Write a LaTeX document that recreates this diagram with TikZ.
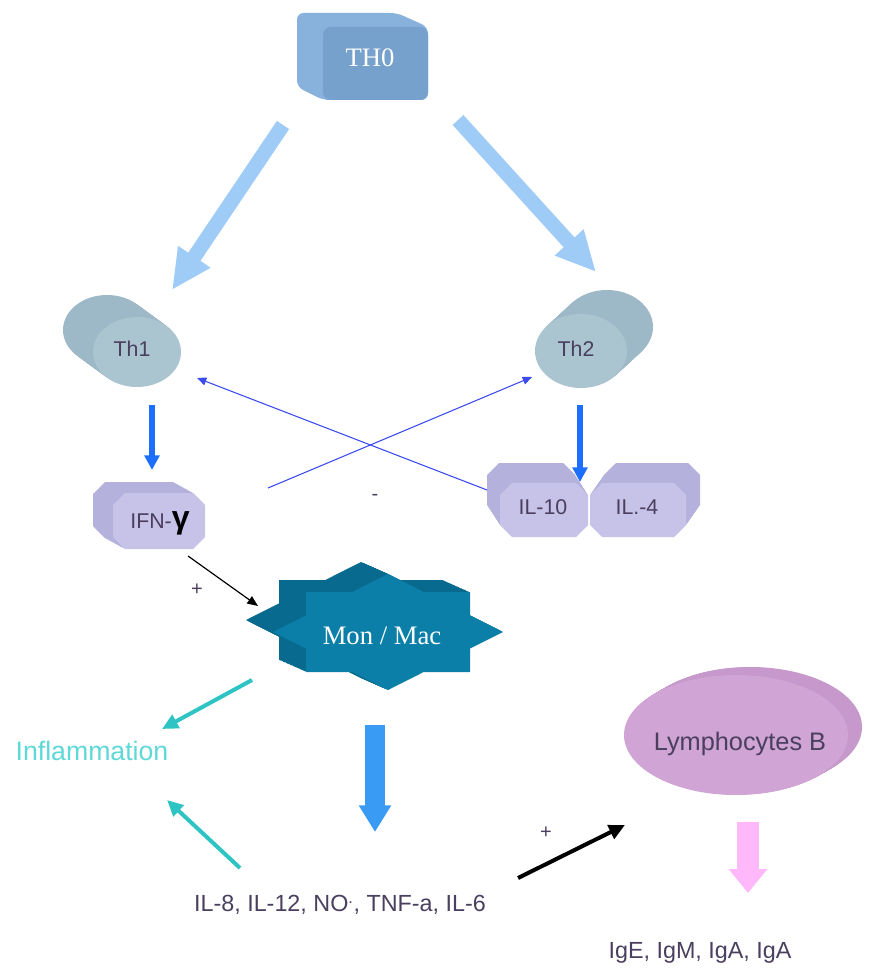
\documentclass[tikz,border=0pt]{standalone}
\usepackage{fontspec}
\setmainfont{Liberation Serif}
\setsansfont{Liberation Sans}
\usetikzlibrary{arrows.meta}
\definecolor{thfront}{HTML}{76A1CD}
\definecolor{thside}{HTML}{88B1DC}
\definecolor{cylfront}{HTML}{AAC4D0}
\definecolor{cylside}{HTML}{9DB8C6}
\definecolor{octfront}{HTML}{C6C2E8}
\definecolor{octside}{HTML}{B5B1DD}
\definecolor{starfront}{HTML}{0C7FA8}
\definecolor{starside}{HTML}{086A8F}
\definecolor{lymfront}{HTML}{D0A4D4}
\definecolor{lymside}{HTML}{C698CB}
\definecolor{lightarrow}{HTML}{9FCBF7}
\definecolor{midblue}{HTML}{1C6EFF}
\definecolor{thinblue}{HTML}{3B4BEF}
\definecolor{teal}{HTML}{2EC4C4}
\definecolor{infltext}{HTML}{5FD8D8}
\definecolor{bigblue}{HTML}{3A9BF5}
\definecolor{pinkarrow}{HTML}{FFB9FA}
\definecolor{labtext}{HTML}{4B3F5F}
\newcommand\cylinder[8]{%
  \foreach \i in {20,...,1}{\fill[#7] ({#1+\i/20*(#5)},{#2+\i/20*(#6)}) ellipse [x radius={(#3)*0.75pt}, y radius={(#4)*0.75pt}];}
  \fill[#8] (#1,#2) ellipse [x radius={(#3)*0.75pt}, y radius={(#4)*0.75pt}];}
\newcommand\octface[6]{%
  \fill[#1] ({#2-#4+#6},{#3-#5}) -- ({#2+#4-#6},{#3-#5}) -- ({#2+#4},{#3-#5+#6}) -- ({#2+#4},{#3+#5-#6}) -- ({#2+#4-#6},{#3+#5}) -- ({#2-#4+#6},{#3+#5}) -- ({#2-#4},{#3+#5-#6}) -- ({#2-#4},{#3-#5+#6}) -- cycle;}
\newcommand\octprism[9]{%
  \foreach \i in {20,...,1}{\pgfmathsetmacro\ox{#1+\i/20*(#6)}\pgfmathsetmacro\oy{#2+\i/20*(#7)}\octface{#8}{\ox}{\oy}{#3}{#4}{#5}}
  \octface{#9}{#1}{#2}{#3}{#4}{#5}}
\newcommand\starface[3]{%
  \begin{scope}[shift={(#2,#3)}]
  \fill[#1] (115,0) -- (82,-16.6) -- (82,-40) -- (35.7,-40) -- (0,-58) -- (-35.7,-40) -- (-82,-40) -- (-82,-16.6) -- (-115,0) -- (-82,16.6) -- (-82,40) -- (-35.7,40) -- (0,58) -- (35.7,40) -- (82,40) -- (82,16.6) -- cycle;
  \end{scope}}
\begin{document}
\begin{tikzpicture}[x=0.75pt,y=-0.75pt,
  lbl/.style={font=\sffamily\fontsize{16}{16}\selectfont, text=labtext},
  serlbl/.style={font=\rmfamily\fontsize{20}{20}\selectfont, text=white},
  sign/.style={font=\sffamily\fontsize{15}{15}\selectfont, text=labtext},
  fatlight/.style={draw=lightarrow, line width=11pt, -{Triangle[width=27pt,length=30pt]}},
  midarrow/.style={draw=midblue, line width=4pt, -{Triangle[width=11pt,length=11pt]}},
  thinarrow/.style={draw=thinblue, line width=0.8pt, -{Triangle[width=6pt,length=7pt]}},
  tealarrow/.style={draw=teal, line width=3pt, -{Triangle[width=11pt,length=12pt]}},
  blackarrow/.style={draw=black, line width=0.9pt, -{Triangle[width=6.5pt,length=8pt]}},
  thickblack/.style={draw=black, line width=3pt, -{Triangle[width=11pt,length=12pt]}},
  bigbluearrow/.style={draw=bigblue, line width=15pt, -{Triangle[width=23pt,length=20pt]}},
  pinkfat/.style={draw=pinkarrow, line width=16pt, -{Triangle[width=28pt,length=18pt]}}]
\useasboundingbox (0,0) rectangle (869,969);
\fill[white] (0,0) rectangle (869,969);

% TH0 box
\fill[thside, rounded corners=5pt] (297,13) -- (397,13) -- (428,27) -- (428,100) -- (323,100) -- (297,87) -- cycle;
\fill[thfront, rounded corners=6pt] (323,27) rectangle (428,100);
\node[serlbl] (th0) at (370,58) {TH0};

% Th1, Th2 cylinders
\cylinder{137}{352}{44}{35}{-30}{-22}{cylside}{cylfront}
\node[lbl] (th1) at (132,349) {Th1};
\cylinder{581}{351}{46}{37}{26}{-24}{cylside}{cylfront}
\node[lbl] (th2) at (576,349) {Th2};

% IFN-gamma
\octprism{159}{521}{46}{28}{12}{-20}{-11}{octside}{octfront}
\node[lbl] (ifn) at (160,523) {IFN-\textcolor{black}{\fontsize{24}{24}\selectfont\bfseries γ}};

% IL-4 and IL-10
\octprism{638}{510}{48}{27}{12}{14}{-20}{octside}{octfront}
\octprism{544}{510}{44}{27}{12}{-13}{-20}{octside}{octfront}
\node[lbl] (il10) at (543,507) {IL-10};
\node[lbl] (il4) at (637,507) {IL.-4};

% Mon / Mac star
\foreach \i in {20,...,1}{\pgfmathsetmacro\sx{388-\i/20*27}\pgfmathsetmacro\sy{632-\i/20*12}\starface{starside}{\sx}{\sy}}
\starface{starfront}{388}{632}
\node[serlbl] (mon) at (382,636) {Mon / Mac};

% Lymphocytes B disc
\cylinder{736}{735}{112}{60}{14}{-8}{lymside}{lymfront}
\node[lbl, font=\sffamily\fontsize{19}{19}\selectfont] (lymb) at (740,744) {Lymphocytes B};

% text labels
\node[font=\sffamily\fontsize{20}{20}\selectfont, text=infltext] (infl) at (92,751) {Inflammation};
\node[lbl, font=\sffamily\fontsize{17.5}{17.5}\selectfont] (cyto) at (340,905) {IL-8, IL-12, NO\textsuperscript{.}, TNF-a, IL-6};
\node[lbl, font=\sffamily\fontsize{17.5}{17.5}\selectfont] (ig) at (700,953) {IgE, IgM, IgA, IgA};
\node[sign] (minus) at (375,497) {-};
\node[sign] (plus1) at (197,590) {+};
\node[sign] (plus2) at (546,833) {+};

% arrow coordinates
\coordinate (a1s) at (283,125); \coordinate (a1e) at (172,290);
\coordinate (a2s) at (458,120); \coordinate (a2e) at (596,272);
\coordinate (a3s) at (152,405); \coordinate (a3e) at (152,470);
\coordinate (a4s) at (580,405); \coordinate (a4e) at (580,482);
\coordinate (a5s) at (487,490); \coordinate (a5e) at (197,378);
\coordinate (a6s) at (268,488); \coordinate (a6e) at (532,377);
\coordinate (a7s) at (188,556); \coordinate (a7e) at (258,606);
\coordinate (a8s) at (252,680); \coordinate (a8e) at (162,729);
\coordinate (a9s) at (240,868); \coordinate (a9e) at (167,800);
\coordinate (a10s) at (375,725); \coordinate (a10e) at (375,832);
\coordinate (a11s) at (518,878); \coordinate (a11e) at (625,825);
\coordinate (a12s) at (748,822); \coordinate (a12e) at (748,893);

\draw[fatlight] (a1s) -- (a1e);
\draw[fatlight] (a2s) -- (a2e);
\draw[midarrow] (a3s) -- (a3e);
\draw[midarrow] (a4s) -- (a4e);
\draw[thinarrow] (a5s) -- (a5e);
\draw[thinarrow] (a6s) -- (a6e);
\draw[blackarrow] (a7s) -- (a7e);
\draw[tealarrow] (a8s) -- (a8e);
\draw[tealarrow] (a9s) -- (a9e);
\draw[bigbluearrow] (a10s) -- (a10e);
\draw[thickblack] (a11s) -- (a11e);
\draw[pinkfat] (a12s) -- (a12e);
\end{tikzpicture}
\end{document}
